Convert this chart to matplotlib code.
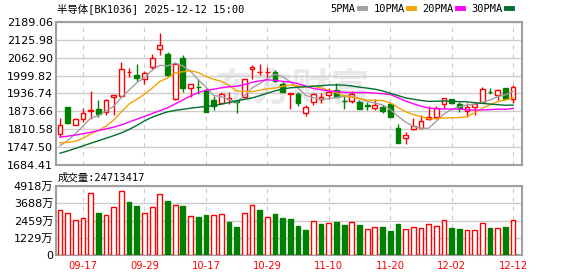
import numpy as np
import pandas as pd
import matplotlib
matplotlib.use("Agg")
import matplotlib.pyplot as plt
from matplotlib.lines import Line2D

# trading days shown (MM-DD)
dates = ["09-12", "09-15", "09-16", "09-17", "09-18", "09-19", "09-22", "09-23", "09-24", "09-25",
         "09-26", "09-29", "09-30", "10-09", "10-10", "10-13", "10-14", "10-15", "10-16", "10-17",
         "10-20", "10-21", "10-22", "10-23", "10-24", "10-27", "10-28", "10-29", "10-30", "10-31",
         "11-03", "11-04", "11-05", "11-06", "11-07", "11-10", "11-11", "11-12", "11-13", "11-14",
         "11-17", "11-18", "11-19", "11-20", "11-21", "11-24", "11-25", "11-26", "11-27", "11-28",
         "12-01", "12-02", "12-03", "12-04", "12-05", "12-08", "12-09", "12-10", "12-11", "12-12"]
tick_dates = ["09-17", "09-29", "10-17", "10-29", "11-10", "11-20", "12-02", "12-12"]

opens = [1793, 1888, 1827, 1847, 1875, 1882, 1872, 1923, 1929, 2011,
         2002, 1989, 2029, 2093, 2075, 1916, 2061, 1955, 1961, 1946,
         1914, 1902, 1919, 1910, 1923, 2022, 2011, 2012, 2012, 1969,
         1935, 1935, 1869, 1908, 1916, 1931, 1949, 1911, 1910, 1908,
         1895, 1884, 1890, 1900, 1814, 1779, 1810, 1816, 1846, 1855,
         1900, 1917, 1899, 1876, 1890, 1908, 1943, 1931, 1955, 1916]
highs = [1849, 1889, 1849, 1886, 1947, 1914, 1918, 1933, 2047, 2028,
         2040, 2017, 2077, 2149, 2082, 2048, 2073, 1970, 1989, 1955,
         1929, 1943, 1943, 1914, 1987, 2037, 2040, 2031, 2020, 1981,
         1938, 1943, 1896, 1940, 1938, 1957, 1973, 1931, 1945, 1914,
         1908, 1918, 1896, 1903, 1829, 1802, 1851, 1861, 1893, 1893,
         1920, 1919, 1908, 1902, 1908, 1959, 1957, 1951, 1956, 1967]
lows = [1784, 1830, 1824, 1837, 1848, 1855, 1862, 1862, 1923, 1996,
        1980, 1969, 2020, 2074, 1996, 1914, 1943, 1925, 1935, 1872,
        1878, 1900, 1900, 1869, 1920, 1987, 2002, 1996, 1978, 1941,
        1882, 1893, 1857, 1896, 1904, 1916, 1923, 1881, 1904, 1881,
        1879, 1879, 1869, 1853, 1763, 1757, 1807, 1810, 1843, 1846,
        1884, 1900, 1873, 1855, 1861, 1907, 1935, 1914, 1916, 1902]
closes = [1825, 1832, 1846, 1869, 1879, 1866, 1914, 1932, 2022, 2013,
          1991, 2008, 2061, 2108, 2002, 2042, 1955, 1969, 1959, 1873,
          1893, 1935, 1921, 1908, 1987, 2029, 2012, 2014, 1981, 1943,
          1937.5, 1902, 1888, 1935, 1924, 1943, 1923, 1910, 1935, 1883,
          1893, 1896, 1876, 1855, 1763, 1790, 1822, 1840, 1855, 1887,
          1920, 1902, 1885, 1888, 1900, 1952, 1942, 1949, 1917, 1959]
# volume in 万
volumes = [3207, 2970, 2495, 2613, 4395, 3017, 2827, 3397, 4562, 3801,
           3492, 2970, 3397, 4348, 3873, 3540, 3492, 2780, 2708, 2851,
           2851, 2898, 2376, 2019, 2970, 3540, 3207, 2684, 2922, 2637,
           2542, 2067, 1782, 2423, 2210, 2257, 2352, 2138, 2328, 2138,
           1829, 1972, 1996, 1711, 2186, 1853, 1972, 1924, 2186, 2067,
           2471, 1924, 1853, 1782, 1782, 2257, 1924, 1901, 1996, 2471]
last_volume = 24713417

# moving average values before the window is full
ma5_head = [1753, 1770, 1795, 1822]
ma10_head = [1763, 1764, 1768, 1779, 1794, 1806, 1822, 1843, 1872]
ma20_head = [1783, 1786, 1790, 1795, 1800, 1806, 1812, 1818, 1826, 1836,
             1846, 1856, 1866, 1876, 1886, 1900, 1914, 1928, 1940]
ma30_head = [1726, 1734, 1743, 1752, 1761, 1770, 1779, 1788, 1798, 1810,
             1824, 1840, 1853, 1863, 1872, 1877, 1881, 1885, 1888, 1891,
             1894, 1899, 1905, 1911, 1916, 1921, 1929, 1938, 1946]

price_ticks = [1684.41, 1747.50, 1810.58, 1873.66, 1936.74, 1999.82, 2062.90, 2125.98, 2189.06]
vol_ticks = [0, 1229, 2459, 3688, 4918]

RED = "#ff0000"
GREEN = "#008000"
GRID = "#cccccc"
FRAME = "#a0a0a0"

o = np.array(opens, float)
h = np.array(highs, float)
l = np.array(lows, float)
c = np.array(closes, float)
v = np.array(volumes, float)
x = np.arange(len(dates))


def moving_average(n, head):
    ma = pd.Series(c).rolling(n).mean().to_numpy()
    ma[:n - 1] = head
    return ma


fig = plt.figure(figsize=(5.78, 2.76), dpi=100)
W, H = 578.0, 276.0
ax = fig.add_axes([56 / W, 1 - 165 / H, 466 / W, 143 / H])
axv = fig.add_axes([56 / W, 1 - 255 / H, 466 / W, 69 / H])

tick_idx = [dates.index(d) for d in tick_dates]

for a in (ax, axv):
    a.set_xlim(-0.52, 60.16)
    a.set_xticks(tick_idx)
    a.grid(True, axis="y", color=GRID, lw=1)
    a.grid(True, axis="x", color=GRID, lw=0.8, ls=(0, (4, 4)))
    a.set_axisbelow(True)
    for s in a.spines.values():
        s.set_color(FRAME)
        s.set_linewidth(1.5)
    a.tick_params(length=0, labelsize=8, pad=2)

# watermark
ax.text(0.507, 0.525, "东方财富", transform=ax.transAxes, ha="center", va="center",
        fontsize=28, color="#e9e9e9", family=["Noto Sans CJK SC"], fontweight="bold",
        style="italic", zorder=0.5)

# candles
up = c >= o
ccol = np.where(up, RED, GREEN)
ax.vlines(x, l, h, colors=ccol, lw=1, zorder=3)
ax.bar(x, np.abs(c - o), bottom=np.minimum(o, c), width=0.62,
       facecolor=np.where(up, "white", GREEN), edgecolor=ccol, lw=1, zorder=4)

# moving averages drawn over the candles
ma_specs = [(5, ma5_head, "#a0a0a0"), (10, ma10_head, "#f5a300"),
            (20, ma20_head, "#ff00ff"), (30, ma30_head, "#006e2e")]
for n, head, col in ma_specs:
    ax.plot(x, moving_average(n, head), color=col, lw=1, zorder=5)

ax.set_ylim(price_ticks[0], price_ticks[-1])
ax.set_yticks(price_ticks)
ax.set_yticklabels(["%.2f" % t for t in price_ticks])
ax.set_xticklabels([])

# volume, colored by close vs previous close
prev = np.concatenate([[o[0]], c[:-1]])
vup = c >= prev
vcol = np.where(vup, RED, GREEN)
axv.bar(x, v, width=0.62, facecolor=np.where(vup, "white", GREEN),
        edgecolor=vcol, lw=1, zorder=3)
axv.set_ylim(0, vol_ticks[-1])
axv.set_yticks(vol_ticks)
axv.set_yticklabels([str(t) if t == 0 else "%d万" % t for t in vol_ticks],
                    family=["DejaVu Sans", "Noto Sans CJK SC"])
axv.set_xticklabels(tick_dates, color=RED, fontsize=7.2)
axv.tick_params(axis="x", pad=4)

txt_font = ["DejaVu Sans Mono", "Noto Sans CJK SC"]
fig.text(57 / W, 1 - 9 / H, "半导体[BK1036] 2025-12-12 15:00", va="center",
         fontsize=7.5, family=txt_font)
fig.text(58 / W, 1 - 178 / H, "成交量:%d" % last_volume, va="center",
         fontsize=7.5, family=txt_font)

handles = [Line2D([], [], color=col, lw=3.5) for _, _, col in ma_specs]
labels = ["%dPMA" % n for n, _, _ in ma_specs]
fig.legend(handles, labels, ncol=4, loc="center right", markerfirst=False,
           bbox_to_anchor=(512 / W, 1 - 9 / H), frameon=False, borderpad=0,
           borderaxespad=0, handlelength=0.55, handletextpad=0.35,
           columnspacing=0.8, prop={"family": "DejaVu Sans Mono", "size": 7.5})

fig.savefig("out.png", dpi=100)
